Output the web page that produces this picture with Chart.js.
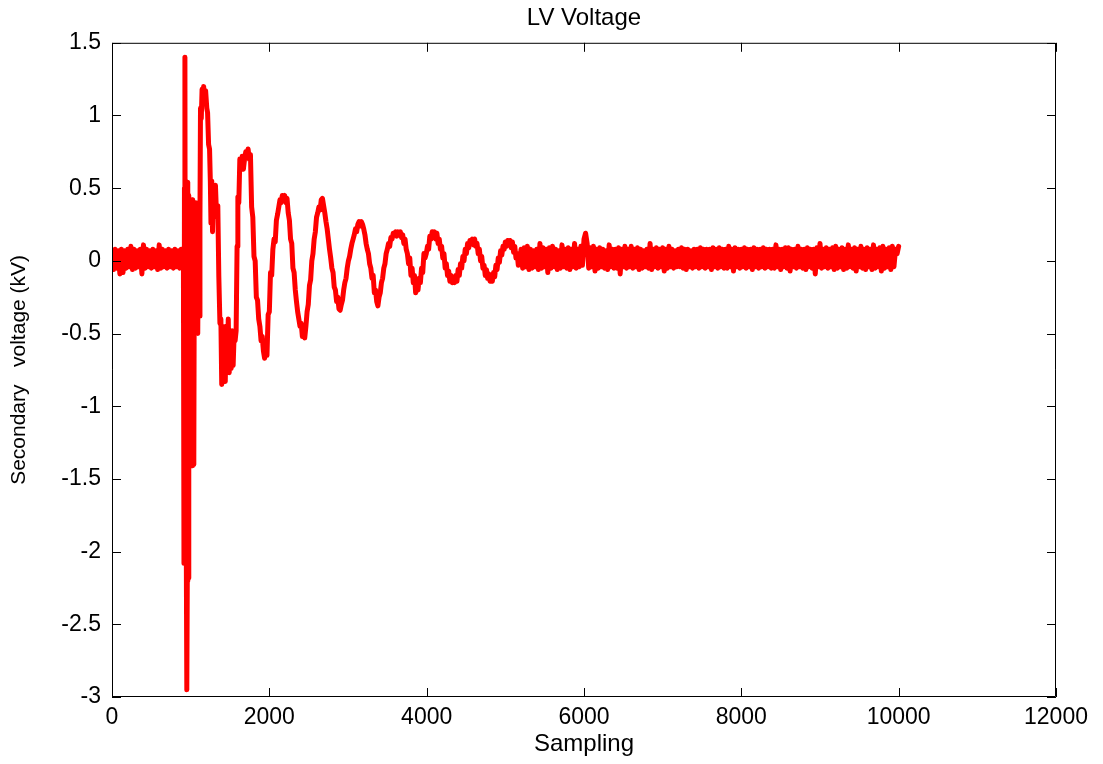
<!DOCTYPE html>
<html>
<head>
<meta charset="utf-8">
<title>LV Voltage</title>
<script src="https://cdn.jsdelivr.net/npm/chart.js@4/dist/chart.umd.min.js"></script>
<style>
  html, body { margin: 0; padding: 0; background: #fff; }
</style>
</head>
<body>
<canvas id="lv-chart" width="1103" height="764"></canvas>
<script>
// Axis ticks
const xTicks = [0, 2000, 4000, 6000, 8000, 10000, 12000];
const yTicks = [-3, -2.5, -2, -1.5, -1, -0.5, 0, 0.5, 1, 1.5];

// Pre-fault noise (sampling 0 - 900)
const preFaultX = [
  0, 20, 40, 60, 80, 100, 120, 140, 160, 180,
  200, 220, 240, 260, 280, 300, 320, 340, 360, 380,
  400, 420, 440, 460, 480, 500, 520, 540, 560, 580,
  600, 620, 640, 660, 680, 700, 720, 740, 760, 780,
  800, 820, 840, 860, 880, 900
];
const preFaultY = [
  0.07, -0.06, 0.08, -0.05, 0.07, -0.09, 0.08, -0.08, 0.07, -0.05,
  0.08, -0.04, 0.10, -0.06, 0.08, -0.05, 0.07, -0.04, 0.08, -0.09,
  0.11, -0.05, 0.08, -0.04, 0.07, -0.05, 0.08, -0.04, 0.07, -0.06,
  0.11, -0.05, 0.08, -0.04, 0.07, -0.05, 0.08, -0.04, 0.07, -0.05,
  0.08, -0.04, 0.07, -0.05, 0.08, 0.06
];

// Fault transient (sampling 908 - 1612)
const faultX = [
  908, 915, 921, 927, 933, 939, 945, 951, 957, 963,
  969, 976, 983, 990, 997, 1004, 1011, 1018, 1025, 1032,
  1040, 1048, 1056, 1064, 1072, 1080, 1090, 1100, 1110, 1118,
  1125, 1135, 1145, 1155, 1165, 1175, 1190, 1205, 1215, 1228,
  1240, 1250, 1258, 1268, 1278, 1290, 1300, 1315, 1330, 1345,
  1358, 1372, 1384, 1395, 1405, 1418, 1430, 1440, 1452, 1465,
  1478, 1490, 1503, 1515, 1528, 1540, 1553, 1565, 1578, 1590,
  1600, 1612
];
const faultY = [
  -0.02, -2.08, 0.50, 1.40, -2.05, 0.54, -2.08, -2.95, -2.20, 0.54,
  -2.18, 0.45, -1.40, 0.40, -1.41, 0.38, -1.38, 0.42, -1.41, 0.40,
  -1.40, 0.38, -0.50, 0.40, -0.48, 0.39, -0.50, 0.38, -0.38, 0.30,
  1.05, 0.98, 1.18, 1.10, 1.20, 1.12, 1.17, 1.05, 1.02, 0.80,
  0.77, 0.55, 0.26, 0.55, 0.20, 0.50, 0.40, 0.52, 0.30, 0.38,
  -0.11, -0.43, -0.40, -0.85, -0.45, -0.80, -0.50, -0.83, -0.45, -0.70,
  -0.40, -0.77, -0.50, -0.74, -0.48, -0.72, -0.50, -0.55, -0.48, 0.10,
  0.44, 0.40
];

// Damped ringing (sampling 1625 - 5180)
const ringX = [
  1625, 1640, 1655, 1670, 1685, 1700, 1715, 1730, 1745, 1760,
  1775, 1790, 1805, 1820, 1835, 1850, 1865, 1880, 1895, 1910,
  1925, 1940, 1955, 1970, 1985, 2000, 2015, 2030, 2045, 2060,
  2075, 2090, 2105, 2120, 2135, 2150, 2165, 2180, 2195, 2210,
  2225, 2240, 2255, 2270, 2285, 2300, 2315, 2330, 2345, 2360,
  2375, 2390, 2405, 2420, 2435, 2450, 2465, 2480, 2495, 2510,
  2525, 2540, 2555, 2570, 2585, 2600, 2615, 2630, 2645, 2660,
  2675, 2690, 2705, 2720, 2735, 2750, 2765, 2780, 2795, 2810,
  2825, 2840, 2855, 2870, 2885, 2900, 2915, 2930, 2945, 2960,
  2975, 2990, 3005, 3020, 3035, 3050, 3065, 3080, 3095, 3110,
  3125, 3140, 3155, 3170, 3185, 3200, 3215, 3230, 3245, 3260,
  3275, 3290, 3305, 3320, 3335, 3350, 3365, 3380, 3395, 3410,
  3425, 3440, 3455, 3470, 3485, 3500, 3515, 3530, 3545, 3560,
  3575, 3590, 3605, 3620, 3635, 3650, 3665, 3680, 3695, 3710,
  3725, 3740, 3755, 3770, 3785, 3800, 3815, 3830, 3845, 3860,
  3875, 3890, 3905, 3920, 3935, 3950, 3965, 3980, 3995, 4010,
  4025, 4040, 4055, 4070, 4085, 4100, 4115, 4130, 4145, 4160,
  4175, 4190, 4205, 4220, 4235, 4250, 4265, 4280, 4295, 4310,
  4325, 4340, 4355, 4370, 4385, 4400, 4415, 4430, 4445, 4460,
  4475, 4490, 4505, 4520, 4535, 4550, 4565, 4580, 4595, 4610,
  4625, 4640, 4655, 4670, 4685, 4700, 4715, 4730, 4745, 4760,
  4775, 4790, 4805, 4820, 4835, 4850, 4865, 4880, 4895, 4910,
  4925, 4940, 4955, 4970, 4985, 5000, 5015, 5030, 5045, 5060,
  5075, 5090, 5105, 5120, 5135, 5150, 5165, 5180
];
const ringY = [
  0.70, 0.63, 0.72, 0.63, 0.70, 0.75, 0.72, 0.77, 0.70, 0.73,
  0.37, 0.30, 0.03, 0.00, -0.25, -0.27, -0.40, -0.45, -0.55, -0.52,
  -0.62, -0.67, -0.60, -0.65, -0.37, -0.35, -0.08, -0.10, 0.08, 0.15,
  0.13, 0.28, 0.32, 0.37, 0.42, 0.40, 0.45, 0.43, 0.45, 0.40,
  0.43, 0.33, 0.28, 0.15, 0.12, -0.05, -0.08, -0.20, -0.28, -0.35,
  -0.40, -0.45, -0.43, -0.52, -0.50, -0.53, -0.45, -0.35, -0.30, -0.17,
  -0.13, 0.00, 0.05, 0.15, 0.20, 0.30, 0.33, 0.37, 0.35, 0.42,
  0.43, 0.38, 0.33, 0.27, 0.22, 0.15, 0.08, 0.02, -0.05, -0.08,
  -0.18, -0.20, -0.28, -0.25, -0.33, -0.34, -0.30, -0.27, -0.20, -0.15,
  -0.12, -0.05, 0.00, 0.03, 0.08, 0.12, 0.15, 0.18, 0.22, 0.20,
  0.25, 0.27, 0.24, 0.27, 0.25, 0.22, 0.18, 0.12, 0.08, 0.05,
  -0.02, -0.05, -0.12, -0.10, -0.22, -0.20, -0.28, -0.31, -0.25, -0.22,
  -0.15, -0.12, -0.05, -0.02, 0.05, 0.08, 0.12, 0.10, 0.16, 0.15,
  0.19, 0.18, 0.20, 0.17, 0.20, 0.19, 0.20, 0.16, 0.18, 0.12,
  0.15, 0.08, 0.05, -0.02, 0.02, -0.10, -0.05, -0.15, -0.10, -0.22,
  -0.18, -0.20, -0.12, -0.15, -0.05, -0.08, 0.05, 0.02, 0.05, 0.10,
  0.08, 0.17, 0.15, 0.20, 0.17, 0.20, 0.15, 0.19, 0.12, 0.15,
  0.08, 0.10, 0.02, 0.05, -0.05, -0.02, -0.10, -0.07, -0.14, -0.10,
  -0.15, -0.12, -0.15, -0.10, -0.14, -0.06, -0.10, -0.02, -0.05, 0.03,
  0.00, 0.08, 0.05, 0.12, 0.09, 0.14, 0.12, 0.15, 0.11, 0.15,
  0.10, 0.12, 0.05, 0.08, 0.00, 0.03, -0.05, -0.03, -0.10, -0.06,
  -0.12, -0.09, -0.14, -0.10, -0.14, -0.08, -0.11, -0.03, -0.06, 0.02,
  -0.01, 0.07, 0.04, 0.10, 0.08, 0.13, 0.10, 0.14, 0.11, 0.14,
  0.09, 0.13, 0.06, 0.10, 0.02, 0.05, -0.03, -0.01
];

// Steady-state noise (sampling 5200 - 10000)
const tailX = [
  5200, 5220, 5240, 5260, 5280, 5300, 5320, 5340, 5360, 5380,
  5400, 5420, 5440, 5460, 5480, 5500, 5520, 5540, 5560, 5580,
  5600, 5620, 5640, 5660, 5680, 5700, 5720, 5740, 5760, 5780,
  5800, 5820, 5840, 5860, 5880, 5900, 5920, 5940, 5960, 5980,
  6000, 6020, 6040, 6060, 6080, 6100, 6120, 6140, 6160, 6180,
  6200, 6220, 6240, 6260, 6280, 6300, 6320, 6340, 6360, 6380,
  6400, 6420, 6440, 6460, 6480, 6500, 6520, 6540, 6560, 6580,
  6600, 6620, 6640, 6660, 6680, 6700, 6720, 6740, 6760, 6780,
  6800, 6820, 6840, 6860, 6880, 6900, 6920, 6940, 6960, 6980,
  7000, 7020, 7040, 7060, 7080, 7100, 7120, 7140, 7160, 7180,
  7200, 7220, 7240, 7260, 7280, 7300, 7320, 7340, 7360, 7380,
  7400, 7420, 7440, 7460, 7480, 7500, 7520, 7540, 7560, 7580,
  7600, 7620, 7640, 7660, 7680, 7700, 7720, 7740, 7760, 7780,
  7800, 7820, 7840, 7860, 7880, 7900, 7920, 7940, 7960, 7980,
  8000, 8020, 8040, 8060, 8080, 8100, 8120, 8140, 8160, 8180,
  8200, 8220, 8240, 8260, 8280, 8300, 8320, 8340, 8360, 8380,
  8400, 8420, 8440, 8460, 8480, 8500, 8520, 8540, 8560, 8580,
  8600, 8620, 8640, 8660, 8680, 8700, 8720, 8740, 8760, 8780,
  8800, 8820, 8840, 8860, 8880, 8900, 8920, 8940, 8960, 8980,
  9000, 9020, 9040, 9060, 9080, 9100, 9120, 9140, 9160, 9180,
  9200, 9220, 9240, 9260, 9280, 9300, 9320, 9340, 9360, 9380,
  9400, 9420, 9440, 9460, 9480, 9500, 9520, 9540, 9560, 9580,
  9600, 9620, 9640, 9660, 9680, 9700, 9720, 9740, 9760, 9780,
  9800, 9820, 9840, 9860, 9880, 9900, 9920, 9940, 9960, 9980,
  10000
];
const tailY = [
  0.08, -0.05, 0.09, -0.04, 0.10, -0.06, 0.08, -0.05, 0.07, -0.04,
  0.08, -0.06, 0.12, -0.05, 0.09, -0.04, 0.08, -0.08, 0.09, -0.05,
  0.10, -0.04, 0.08, -0.06, 0.07, -0.05, 0.11, -0.04, 0.08, -0.05,
  0.09, -0.06, 0.08, -0.04, 0.12, -0.05, 0.08, -0.04, 0.10, -0.03,
  0.15, 0.19, 0.12, -0.05, 0.09, -0.04, 0.10, -0.07, 0.08, -0.05,
  0.09, -0.04, 0.08, -0.05, 0.07, -0.06, 0.11, -0.04, 0.08, -0.05,
  0.08, -0.05, 0.09, -0.09, 0.08, -0.04, 0.10, -0.05, 0.08, -0.04,
  0.10, -0.05, 0.08, -0.04, 0.09, -0.06, 0.08, -0.05, 0.07, -0.04,
  0.08, -0.05, 0.12, -0.06, 0.08, -0.04, 0.09, -0.05, 0.08, -0.04,
  0.09, -0.07, 0.08, -0.05, 0.10, -0.04, 0.08, -0.05, 0.07, -0.04,
  0.08, -0.04, 0.09, -0.05, 0.08, -0.06, 0.08, -0.04, 0.07, -0.05,
  0.08, -0.04, 0.08, -0.05, 0.09, -0.04, 0.08, -0.05, 0.08, -0.04,
  0.08, -0.06, 0.09, -0.04, 0.08, -0.05, 0.09, -0.04, 0.08, -0.05,
  0.08, -0.05, 0.10, -0.04, 0.08, -0.07, 0.09, -0.04, 0.08, -0.05,
  0.08, -0.04, 0.09, -0.05, 0.08, -0.04, 0.08, -0.06, 0.09, -0.04,
  0.08, -0.05, 0.08, -0.04, 0.09, -0.05, 0.08, -0.04, 0.08, -0.05,
  0.08, -0.05, 0.11, -0.04, 0.08, -0.06, 0.08, -0.04, 0.09, -0.05,
  0.09, -0.07, 0.08, -0.04, 0.08, -0.05, 0.10, -0.04, 0.08, -0.05,
  0.08, -0.06, 0.09, -0.04, 0.08, -0.05, 0.08, -0.09, 0.09, -0.04,
  0.12, -0.05, 0.08, -0.04, 0.09, -0.05, 0.08, -0.04, 0.09, -0.06,
  0.10, -0.05, 0.08, -0.04, 0.09, -0.06, 0.08, -0.05, 0.11, -0.04,
  0.08, -0.05, 0.09, -0.07, 0.08, -0.04, 0.10, -0.05, 0.08, -0.06,
  0.09, -0.04, 0.08, -0.06, 0.11, -0.05, 0.08, -0.04, 0.09, -0.07,
  0.10, -0.05, 0.08, -0.04, 0.09, -0.06, 0.10, -0.04, 0.08, 0.05,
  0.10
];

const FONT = '"Liberation Sans", Arial, Helvetica, sans-serif';

const toPoints = (xs, ys) => xs.map((x, i) => ({ x: x, y: ys[i] }));
const points = [].concat(
  toPoints(preFaultX, preFaultY),
  toPoints(faultX, faultY),
  toPoints(ringX, ringY),
  toPoints(tailX, tailY)
);

// box round the plot with inward tick marks on all four sides
const insideTicks = {
  id: 'insideTicks',
  afterDraw(chart) {
    const { ctx, chartArea: a } = chart;
    const xs = chart.scales.x, ys = chart.scales.y;
    const len = 9;
    ctx.save();
    ctx.strokeStyle = '#000';
    ctx.lineWidth = 1;
    ctx.beginPath();
    ctx.rect(a.left + 0.5, a.top + 0.5, a.right - a.left - 1, a.bottom - a.top - 1);
    xTicks.forEach(v => {
      const px = Math.round(xs.getPixelForValue(v)) + 0.5;
      ctx.moveTo(px, a.bottom); ctx.lineTo(px, a.bottom - len);
      ctx.moveTo(px, a.top); ctx.lineTo(px, a.top + len);
    });
    yTicks.forEach(v => {
      const py = Math.round(ys.getPixelForValue(v)) + 0.5;
      ctx.moveTo(a.left, py); ctx.lineTo(a.left + len, py);
      ctx.moveTo(a.right, py); ctx.lineTo(a.right - len, py);
    });
    ctx.stroke();
    ctx.restore();
  }
};

new Chart(document.getElementById('lv-chart'), {
  type: 'line',
  data: {
    datasets: [{
      label: 'LV Voltage',
      data: points,
      borderColor: '#FF0000',
      borderWidth: 5,
      borderJoinStyle: 'round',
      borderCapStyle: 'round',
      pointRadius: 0,
      tension: 0,
      fill: false
    }]
  },
  options: {
    responsive: false,
    animation: false,
    events: [],
    layout: { padding: { top: 0, right: 47, bottom: 0, left: 0 } },
    plugins: {
      legend: { display: false },
      tooltip: { enabled: false },
      title: {
        display: true,
        fullSize: false,
        text: 'LV Voltage',
        color: '#000',
        font: { family: FONT, size: 24, weight: 'normal' },
        padding: { top: 4, bottom: 10 }
      }
    },
    scales: {
      x: {
        type: 'linear',
        min: 0,
        max: 12000,
        grid: { display: false, drawTicks: false },
        border: { display: false },
        ticks: {
          stepSize: 2000,
          autoSkip: false,
          maxRotation: 0,
          padding: 7,
          color: '#000',
          font: { family: FONT, size: 23 },
          callback: v => String(v)
        },
        title: {
          display: true,
          text: 'Sampling',
          color: '#000',
          font: { family: FONT, size: 24 },
          padding: { top: 0, bottom: 5 }
        },
        afterFit: s => { s.height = 67; }
      },
      y: {
        min: -3,
        max: 1.5,
        grid: { display: false, drawTicks: false },
        border: { display: false },
        ticks: {
          stepSize: 0.5,
          padding: 11,
          color: '#000',
          font: { family: FONT, size: 23 },
          callback: v => String(v)
        },
        title: {
          display: true,
          text: 'Secondary   voltage (kV)',
          color: '#000',
          font: { family: FONT, size: 21 },
          padding: { top: 7, bottom: 0 }
        },
        afterFit: s => { s.width = 112; }
      }
    }
  },
  plugins: [insideTicks]
});
</script>
</body>
</html>
